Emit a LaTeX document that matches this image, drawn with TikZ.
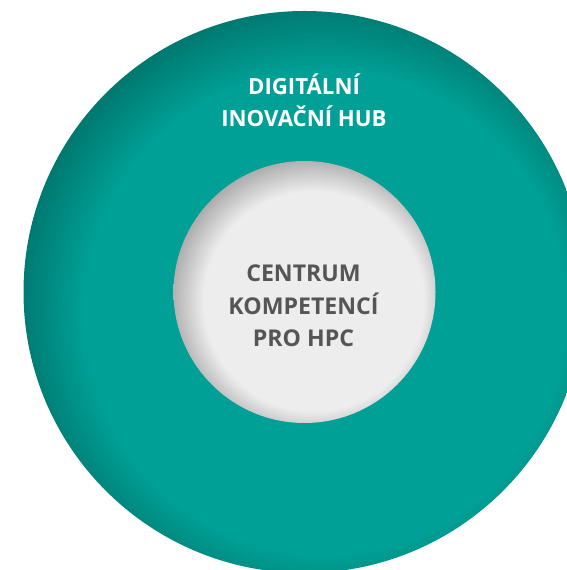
\documentclass[tikz,border=0pt]{standalone}
\usepackage{fontspec}
\setmainfont{Open Sans}
\usepackage{xcolor}
\definecolor{hubteal}{RGB}{0,160,150}
\definecolor{hubdark}{RGB}{0,106,98}
\definecolor{hpcgrey}{RGB}{237,237,237}
\definecolor{hpcedge}{RGB}{150,150,150}
\definecolor{hpcink}{RGB}{85,85,85}
\pgfdeclareradialshading{hubrim}{\pgfpoint{3.2bp}{-3.2bp}}{color(0bp)=(hubteal); color(21.5bp)=(hubteal); color(29bp)=(hubdark); color(50bp)=(hubdark)}
\pgfdeclareradialshading{hpcrim}{\pgfpoint{3bp}{-3bp}}{color(0bp)=(hpcgrey); color(21bp)=(hpcgrey); color(29bp)=(hpcedge); color(50bp)=(hpcedge)}

\begin{document}
\begin{tikzpicture}[x=1bp,y=1bp,
	hubtext/.style={align=center,inner sep=0pt,text=white,font=\fontsize{22.3}{32}\selectfont\bfseries},
	hpctext/.style={align=center,inner sep=0pt,text=hpcink,font=\fontsize{23.2}{32.5}\selectfont\bfseries}]
	\useasboundingbox (0,0) rectangle (567,570);
	\clip (0,0) rectangle (567,570);
	\coordinate (c) at (304.5,278); % stred obou kruhu
	\shade[shading=hubrim] (c) circle (281); % vnejsi kruh
	\shade[shading=hpcrim] (c) circle (131); % vnitrni kruh
	\node[hubtext] (hub) at (304,469.5) {DIGITÁLNÍ\\INOVAČNÍ HUB};
	\node[hpctext] (hpc) at (303.5,264.1) {CENTRUM\\KOMPETENCÍ\\PRO HPC};
\end{tikzpicture}
\end{document}
